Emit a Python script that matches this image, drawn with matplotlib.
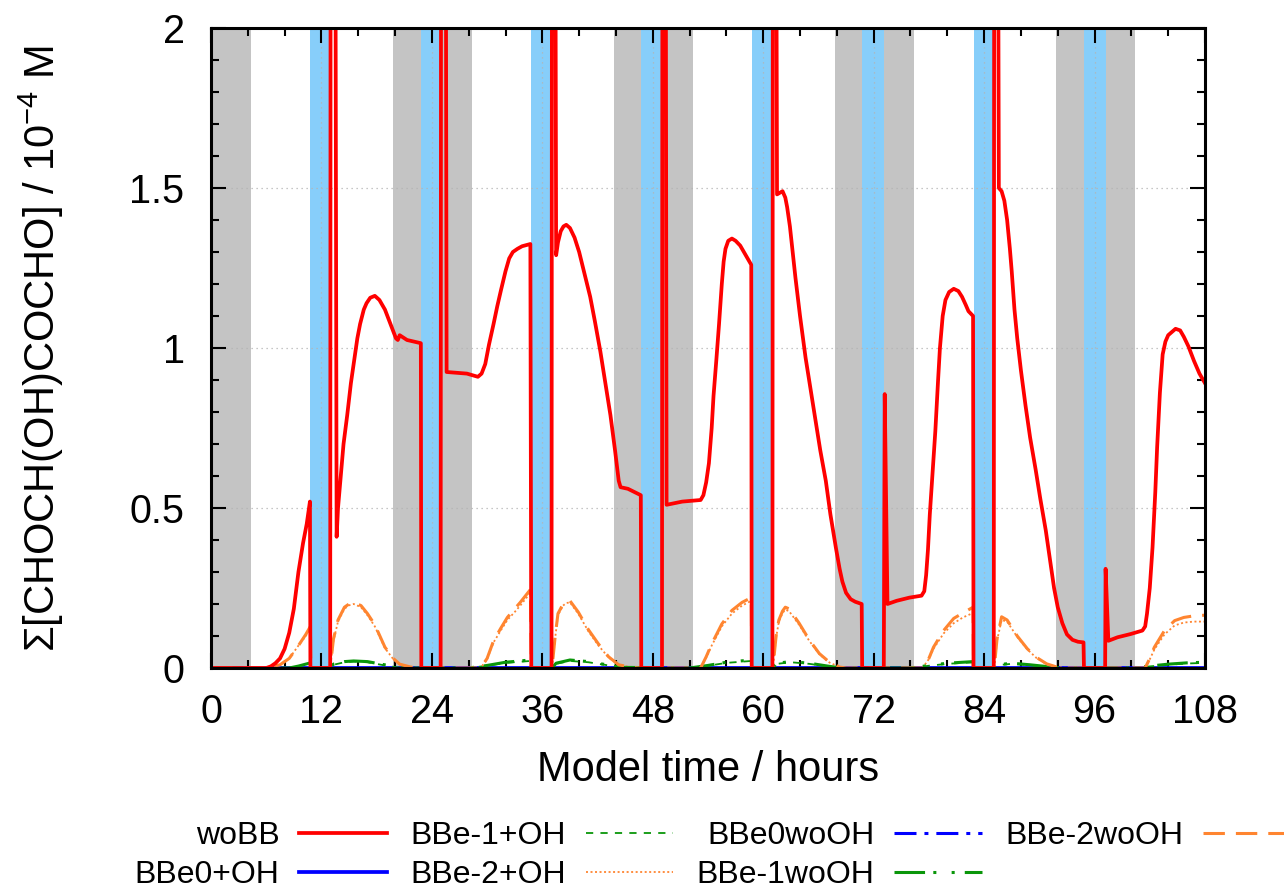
import matplotlib
matplotlib.use("Agg")
from matplotlib import pyplot as plt
from matplotlib.ticker import MultipleLocator, FuncFormatter

plt.rcParams['font.family'] = ['Liberation Sans', 'DejaVu Sans']
plt.rcParams['mathtext.default'] = 'regular'

# night (grey) and cloud (blue) periods, hours
night_start = [0.0, 19.8, 43.8, 67.8, 91.8]
night_end = [4.3, 28.35, 52.35, 76.35, 100.35]
cloud_start = [10.8, 22.85, 34.8, 46.75, 58.75, 70.75, 82.85, 94.85]
cloud_end = [12.95, 25.0, 37.0, 49.0, 61.0, 73.15, 85.05, 97.2]

# woBB (values above 2 are the off-scale spikes)
t_wobb = [0, 5.5, 6.0, 6.5, 7.0, 7.5, 8.0, 8.5, 9.0, 9.5, 10.0, 10.4, 10.75, 10.8,
          12.95, 13.0, 13.5, 13.65, 13.8, 14.1, 14.4, 14.8, 15.2, 15.5, 15.9, 16.2, 16.6, 16.9, 17.3, 17.8,
          18.3, 18.9, 19.5, 20.1, 20.3, 20.5, 21.3, 22.8, 22.85,
          24.95, 25.0, 25.5, 25.6, 27.8, 29.0, 29.4, 29.8, 30.2, 30.7, 31.1, 31.5, 32.0, 32.4, 32.8, 33.3,
          33.8, 34.7, 34.8,
          37.0, 37.05, 37.4, 37.5, 37.7, 38.0, 38.3, 38.6, 39.0, 39.5, 40.0, 40.6, 41.2, 41.7, 42.3, 42.8,
          43.4, 43.9, 44.3, 44.5, 45.3, 46.0, 46.7, 46.75,
          49.0, 49.05, 49.4, 49.5, 51.2, 53.2, 53.5, 53.8, 54.1, 54.4, 54.6, 54.9, 55.2, 55.5, 55.7, 55.9,
          56.2, 56.6, 57.0, 57.5, 57.9, 58.3, 58.7, 58.75,
          61.0, 61.05, 61.4, 61.5, 61.8, 62.1, 62.4, 62.6, 62.9, 63.2, 63.5, 64.0, 64.6, 65.1, 65.7, 66.2,
          66.8, 67.3, 67.9, 68.3, 68.6, 69.0, 69.5, 70.0, 70.7, 70.75,
          73.1, 73.2, 73.5, 74.5, 75.9, 77.2, 77.5, 77.7, 77.9, 78.1, 78.4, 78.7, 79.0, 79.2, 79.5, 79.8,
          80.2, 80.7, 81.2, 81.6, 82.0, 82.3, 82.8, 82.85,
          85.05, 85.1, 85.5, 85.6, 85.9, 86.2, 86.5, 86.8, 87.0, 87.3, 87.6, 88.0, 88.5, 89.0, 89.6, 90.1,
          90.7, 91.2, 91.6, 92.0, 92.5, 93.0, 93.6, 94.2, 94.8, 94.85,
          97.15, 97.2, 97.5, 98.5, 99.9, 101.2, 101.5, 101.7, 102.0, 102.3, 102.6, 102.8, 103.1, 103.4,
          103.7, 104.0, 104.8, 105.3, 105.7, 106.2, 106.8, 107.4, 108.0]
c_wobb = [0, 0, 0.0, 0.005, 0.015, 0.03, 0.06, 0.11, 0.185, 0.3, 0.39, 0.45, 0.52, 0,
          0, 2.6, 2.6, 0.41, 0.5, 0.6, 0.7, 0.79, 0.89, 0.95, 1.03, 1.075, 1.12, 1.14, 1.157, 1.163,
          1.15, 1.12, 1.075, 1.03, 1.025, 1.04, 1.025, 1.015, 0,
          0, 2.6, 2.6, 0.925, 0.92, 0.91, 0.92, 0.95, 1.01, 1.075, 1.13, 1.18, 1.24, 1.28, 1.30, 1.31,
          1.318, 1.325, 0,
          0, 2.6, 2.6, 1.29, 1.33, 1.365, 1.38, 1.385, 1.375, 1.345, 1.30, 1.23, 1.16, 1.085, 0.99, 0.90,
          0.79, 0.68, 0.585, 0.565, 0.56, 0.55, 0.54, 0,
          0, 2.6, 2.6, 0.51, 0.52, 0.525, 0.54, 0.58, 0.64, 0.75, 0.85, 0.96, 1.075, 1.2, 1.27, 1.31,
          1.335, 1.342, 1.335, 1.32, 1.30, 1.28, 1.26, 0,
          0, 2.6, 2.6, 1.48, 1.485, 1.49, 1.47, 1.44, 1.38, 1.30, 1.22, 1.1, 0.97, 0.88, 0.77, 0.68,
          0.585, 0.48, 0.375, 0.31, 0.27, 0.235, 0.215, 0.207, 0.20, 0,
          0, 0.856, 0.20, 0.21, 0.22, 0.226, 0.24, 0.29, 0.37, 0.48, 0.61, 0.74, 0.9, 1.0, 1.1, 1.15,
          1.175, 1.185, 1.178, 1.16, 1.135, 1.115, 1.10, 0,
          0, 2.6, 2.6, 1.50, 1.49, 1.46, 1.40, 1.31, 1.24, 1.12, 1.03, 0.93, 0.82, 0.72, 0.62, 0.53,
          0.43, 0.33, 0.25, 0.19, 0.14, 0.105, 0.088, 0.082, 0.08, 0,
          0, 0.31, 0.085, 0.096, 0.106, 0.117, 0.13, 0.17, 0.25, 0.377, 0.55, 0.69, 0.86, 0.98,
          1.02, 1.04, 1.06, 1.055, 1.035, 1.005, 0.96, 0.92, 0.89]

# BBe-2 runs (orange)
t_bbe2 = [0, 6.0, 7.5, 8.5, 9.5, 10.3, 10.8, 10.85,
          12.95, 13.3, 13.8, 14.5, 15.0, 15.5, 16.3, 17.0, 17.8, 18.9, 19.8, 20.5, 21.7, 22.5,
          29.3, 30.0, 30.7, 31.5, 32.2, 33.0, 33.6, 34.7, 34.8,
          37.05, 37.4, 37.7, 38.25, 38.6, 39.0, 39.9, 41.0, 42.1, 43.2, 44.3, 45.7, 46.5,
          53.2, 53.8, 54.4, 55.5, 56.6, 57.7, 58.7, 58.75,
          61.05, 61.4, 61.7, 62.1, 62.4, 62.8, 63.9, 65.0, 66.1, 67.2, 68.3, 69.0,
          77.3, 78.0, 78.5, 79.6, 80.7, 81.7, 82.8, 82.85,
          85.1, 85.4, 85.9, 86.5, 87.6, 88.7, 89.7, 90.8, 91.9, 93.0,
          101.5, 102.0, 102.5, 103.6, 104.7, 105.7, 106.8, 108.0]
c_bbe2_wooh = [0, 0, 0.01, 0.03, 0.07, 0.105, 0.13, 0,
               0, 0.09, 0.15, 0.19, 0.2, 0.205, 0.195, 0.17, 0.135, 0.065, 0.03, 0.012, 0.003, 0,
               0, 0.03, 0.085, 0.125, 0.158, 0.185, 0.205, 0.245, 0,
               0, 0.1, 0.17, 0.2, 0.208, 0.21, 0.175, 0.12, 0.075, 0.035, 0.01, 0.002, 0,
               0, 0.035, 0.075, 0.1375, 0.18, 0.205, 0.22, 0,
               0, 0.1, 0.15, 0.178, 0.19, 0.185, 0.14, 0.088, 0.045, 0.018, 0.003, 0,
               0, 0.03, 0.065, 0.117, 0.155, 0.172, 0.19, 0,
               0, 0.09, 0.16, 0.15, 0.1, 0.06, 0.033, 0.013, 0.003, 0,
               0, 0.03, 0.065, 0.117, 0.148, 0.158, 0.163, 0.165]
c_bbe2_oh = [0, 0, 0.01, 0.03, 0.07, 0.1, 0.125, 0,
             0, 0.085, 0.145, 0.185, 0.196, 0.2, 0.19, 0.165, 0.13, 0.062, 0.028, 0.011, 0.003, 0,
             0, 0.028, 0.08, 0.118, 0.15, 0.175, 0.195, 0.235, 0,
             0, 0.095, 0.165, 0.195, 0.203, 0.205, 0.17, 0.115, 0.07, 0.033, 0.009, 0.002, 0,
             0, 0.032, 0.07, 0.13, 0.17, 0.195, 0.21, 0,
             0, 0.095, 0.145, 0.172, 0.182, 0.178, 0.135, 0.085, 0.043, 0.017, 0.003, 0,
             0, 0.028, 0.06, 0.108, 0.14, 0.158, 0.172, 0,
             0, 0.085, 0.15, 0.145, 0.097, 0.058, 0.031, 0.012, 0.003, 0,
             0, 0.027, 0.058, 0.105, 0.133, 0.142, 0.145, 0.145]

# BBe-1 runs (green)
t_bbe1 = [0, 8.5, 9.5, 10.8, 10.85, 12.95, 13.3, 14.5, 15.5, 17.0, 18.5, 20.0, 21.0,
          28.0, 30.0, 32.0, 34.7, 34.8, 37.05, 37.5, 39.0, 41.0, 43.0, 44.5,
          52.0, 54.0, 56.0, 58.7, 58.75, 61.05, 61.5, 63.0, 65.0, 67.0, 68.5,
          76.0, 78.0, 80.0, 82.8, 82.85, 85.1, 85.5, 87.0, 89.0, 91.0, 92.5,
          100.0, 102.0, 104.0, 106.0, 108.0]
c_bbe1_wooh = [0, 0, 0.006, 0.016, 0, 0, 0.012, 0.02, 0.022, 0.02, 0.012, 0.004, 0,
               0, 0.008, 0.018, 0.025, 0, 0, 0.015, 0.025, 0.02, 0.01, 0.002,
               0, 0.008, 0.018, 0.025, 0, 0, 0.015, 0.02, 0.015, 0.006, 0,
               0, 0.008, 0.015, 0.02, 0, 0, 0.01, 0.015, 0.01, 0.004, 0,
               0, 0.006, 0.012, 0.016, 0.018]
c_bbe1_oh = [0, 0, 0.005, 0.014, 0, 0, 0.01, 0.018, 0.02, 0.018, 0.01, 0.003, 0,
             0, 0.007, 0.016, 0.022, 0, 0, 0.013, 0.022, 0.018, 0.009, 0.002,
             0, 0.007, 0.016, 0.022, 0, 0, 0.013, 0.018, 0.013, 0.005, 0,
             0, 0.007, 0.013, 0.018, 0, 0, 0.009, 0.013, 0.009, 0.003, 0,
             0, 0.005, 0.01, 0.014, 0.016]

# BBe0 runs (blue) stay at zero
t_bbe0 = [0, 108]
c_bbe0_oh = [0, 0]
c_bbe0_wooh = [0, 0]

RED = '#ff0000'
BLUE = '#0000ff'
GREEN = '#0a960a'
ORANGE = '#ff8530'

series = [
    ('woBB', t_wobb, c_wobb, dict(color=RED, lw=2.7, ls='-')),
    ('BBe0+OH', t_bbe0, c_bbe0_oh, dict(color=BLUE, lw=2.7, ls='-')),
    ('BBe-1+OH', t_bbe1, c_bbe1_oh, dict(color=GREEN, lw=1.3, ls=(0, (4, 4)))),
    ('BBe-2+OH', t_bbe2, c_bbe2_oh, dict(color=ORANGE, lw=1.3, ls=(0, (1.1, 1.4)))),
    ('BBe0woOH', t_bbe0, c_bbe0_wooh, dict(color=BLUE, lw=2.2, ls=(0, (7.2, 2.6, 1.3, 2.6)))),
    ('BBe-1woOH', t_bbe1, c_bbe1_wooh, dict(color=GREEN, lw=2.2, ls=(0, (10, 2.7, 1, 5, 1, 3.3)))),
    ('BBe-2woOH', t_bbe2, c_bbe2_wooh, dict(color=ORANGE, lw=2.2, ls=(0, (7, 3.6)))),
]

fig = plt.figure(figsize=(12.84, 8.90), dpi=100)
ax = fig.add_axes([0.16433, 0.24944, 0.77414, 0.71910])

for a, b in zip(night_start, night_end):
    ax.axvspan(a, b, color='#c4c4c4', lw=0, zorder=0.5)
for a, b in zip(cloud_start, cloud_end):
    ax.axvspan(a, b, color='#87cefa', lw=0, zorder=0.6)

handles = []
for i, (name, t, c, kw) in enumerate(series):
    z = 3 if name == 'woBB' else 2 + i * 0.01
    ln, = ax.plot(t, c, label=name, zorder=z, solid_joinstyle='round', **kw)
    handles.append(ln)

ax.set_xlim(0, 108)
ax.set_ylim(0, 2)
ax.xaxis.set_major_locator(MultipleLocator(12))
ax.xaxis.set_minor_locator(MultipleLocator(4))
ax.yaxis.set_major_locator(MultipleLocator(0.5))
ax.yaxis.set_minor_locator(MultipleLocator(0.1))
ax.yaxis.set_major_formatter(FuncFormatter(lambda v, _: f'{v:g}'))

ax.set_axisbelow('line')
ax.grid(True, which='major', color='#b4b4b4', lw=0.9, ls=(0, (1, 3)))

ax.tick_params(which='both', direction='in', top=True, right=True, width=1.5, labelsize=28.5)
ax.tick_params(which='major', length=11)
ax.tick_params(which='minor', length=5.5)
ax.tick_params(axis='x', which='major', pad=18)
ax.tick_params(axis='y', which='major', pad=19)
for sp in ax.spines.values():
    sp.set_linewidth(2.2)
    sp.set_zorder(5)

ax.set_xlabel('Model time / hours', fontsize=30, labelpad=14)
ax.set_ylabel('Σ[CHOCH(OH)COCHO] / 10$^{-4}$ M', fontsize=30)
ax.yaxis.set_label_coords(-0.146, 0.5)

fig.legend(handles, [h.get_label() for h in handles], ncol=4, loc='center',
           bbox_to_anchor=(0.555, 0.039), markerfirst=False, frameon=False,
           fontsize=23, handlelength=2.75, handletextpad=0.62,
           columnspacing=0.72, labelspacing=0.28)

fig.savefig('out.png', dpi=100)
